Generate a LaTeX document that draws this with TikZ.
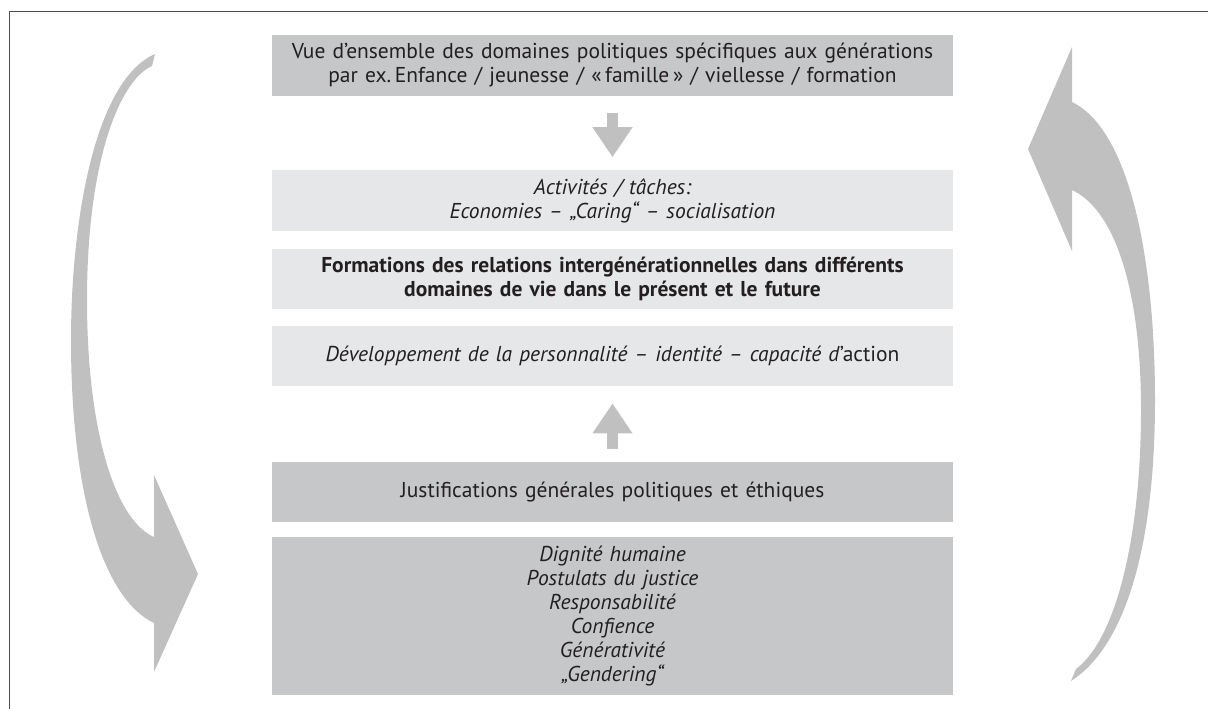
\documentclass[tikz,border=0pt]{standalone}
\usepackage{fontspec}
\setmainfont{PT Sans}
\usetikzlibrary{positioning,arrows.meta}
\definecolor{boxdark}{HTML}{C6C7C9}
\definecolor{boxlight}{HTML}{E6E7E8}
\definecolor{arrowgray}{HTML}{C0C0C0}
\definecolor{framegray}{HTML}{4D4D4D}
\definecolor{textgray}{HTML}{231F20}

\begin{document}
\begin{tikzpicture}[x=1pt, y=-1pt,
        box/.style = {text width=681pt, inner sep=0pt, align=center, minimum height=60pt,
                      text=textgray, font=\fontsize{21.5}{24}\selectfont},
        darkbox/.style = {box, fill=boxdark},
        lightbox/.style = {box, fill=boxlight},
        italic/.style = {font=\fontsize{21.5}{24}\selectfont\itshape},
        boldtext/.style = {font=\fontsize{21.5}{24}\selectfont\bfseries},
        smallarrow/.style = {draw=arrowgray, line width=11pt, -{Triangle[width=38pt,length=30pt]}}]
                \useasboundingbox (0,0) rectangle (1208,709);
                \draw[framegray, line width=1pt] (9,709) -- (9,12) -- (1208,12);
                \node[darkbox, minimum height=61pt] (vue) at (612.5,65.5)
                    {Vue d’ensemble des domaines politiques spécifiques aux générations\\
                     par ex.\,Enfance / jeunesse / «\,famille\,» / viellesse / formation};
                \node[lightbox, italic, minimum height=61pt] (taches) [below=74pt of vue]
                    {Activités / tâches:\\ Economies – „Caring“ – socialisation};
                \node[lightbox, boldtext] (relations) [below=17pt of taches]
                    {Formations des relations intergénérationnelles dans différents\\
                     domaines de vie dans le présent et le future};
                \node[lightbox] (perso) [below=17pt of relations]
                    {\textit{Développement de la personnalité – identité – capacité d}’action};
                \node[darkbox] (justif) [below=75pt of perso]
                    {Justifications générales politiques et éthiques};
                \node[darkbox, italic, minimum height=158pt] (valeurs) [below=15pt of justif]
                    {Dignité humaine\\ Postulats du justice\\ Responsabilité\\
                     Confience\\ Générativité\\ „Gendering“};
                \draw[smallarrow] ([yshift=-17pt]vue.south) -- ([yshift=13pt]taches.north);
                \draw[smallarrow] ([yshift=12pt]justif.north) -- ([yshift=-17pt]perso.south);
                \fill[arrowgray] (155,54) .. controls (95,80) and (71,220) .. (71,340)
                    .. controls (71,500) and (105,600) .. (154,623)
                    -- (154,672) -- (198,574) -- (154,475) -- (154,537)
                    .. controls (115,520) and (87,430) .. (87,300)
                    .. controls (87,160) and (120,80) .. (152,66) -- cycle;
                \fill[arrowgray] (1072,102) .. controls (1130,130) and (1155,260) .. (1155,400)
                    .. controls (1155,560) and (1120,650) .. (1071,681)
                    -- (1076,669) .. controls (1115,640) and (1141,540) .. (1141,410)
                    .. controls (1141,290) and (1115,210) .. (1072,190)
                    -- (1072,251) -- (1028,149) -- (1072,47) -- cycle;
            \end{tikzpicture}
\end{document}
